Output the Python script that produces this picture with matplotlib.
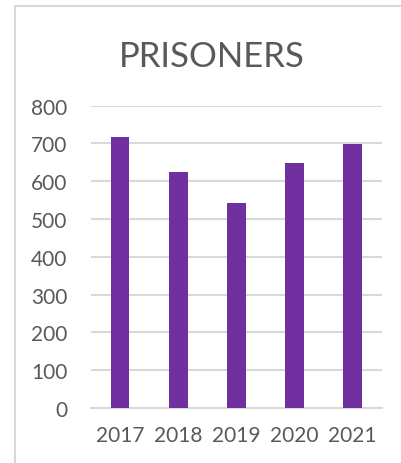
import matplotlib
matplotlib.use('Agg')
import matplotlib.pyplot as plt
from matplotlib.patches import Rectangle

years = ['2017', '2018', '2019', '2020', '2021']
prisoners = [716, 625, 542, 649, 699]
yticks = [0, 100, 200, 300, 400, 500, 600, 700, 800]

purple = '#7030A0'
grey_txt = '#595959'
grid_col = '#D9D9D9'

plt.rcParams['font.family'] = ['Lato', 'DejaVu Sans']

fig = plt.figure(figsize=(4.02, 4.64), dpi=100)
# chart frame, runs off the right and bottom edge
fig.patches.append(Rectangle((15 / 402, -0.1), 1.2, 1 - 7 / 464 + 0.1,
                             transform=fig.transFigure, fill=False,
                             edgecolor='#D9D9D9', linewidth=1.5))

ax = fig.add_axes([91 / 402, 55 / 464, 290.7 / 402, 302.3 / 464])
ax.bar(range(len(years)), prisoners, width=0.32, color=purple, zorder=3)
ax.set_xlim(-0.5, len(years) - 0.5)
ax.set_ylim(0, 800)
ax.set_yticks(yticks)
ax.set_xticks(range(len(years)))
ax.set_xticklabels(years)
ax.yaxis.grid(True, color=grid_col, linewidth=1.5, zorder=0)
for s in ['top', 'right', 'left']:
    ax.spines[s].set_visible(False)
ax.spines['bottom'].set_color(grid_col)
ax.spines['bottom'].set_linewidth(1.5)
ax.tick_params(axis='both', length=0, colors=grey_txt, labelsize=15)
ax.tick_params(axis='y', pad=17)
ax.tick_params(axis='x', pad=12)

fig.text(212 / 402, 1 - 57 / 464, 'PRISONERS', ha='center', va='center',
         fontsize=25, color=grey_txt)

fig.savefig('out.png', dpi=100)
